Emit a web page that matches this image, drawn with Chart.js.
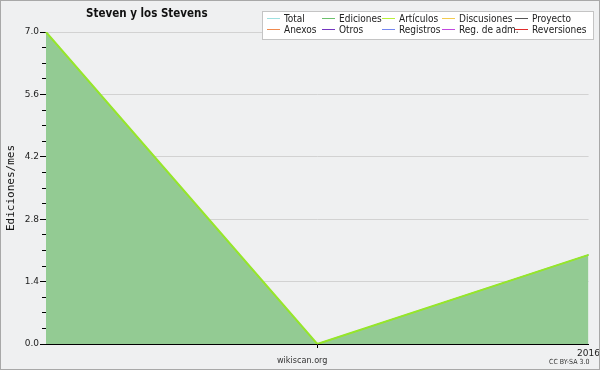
<!DOCTYPE html>
<html>
<head>
<meta charset="utf-8">
<script src="https://cdn.jsdelivr.net/npm/chart.js@4/dist/chart.umd.min.js"></script>
<style>
  body { margin: 0; background: #eff0f1; }
  #wrap { position: relative; width: 600px; height: 370px; background: #eff0f1; }
  #frame { position: absolute; left: 0; top: 0; width: 598px; height: 368px; border: 1px solid #a8a8a8; pointer-events: none; }
  #legend { position: absolute; left: 262px; top: 11px; width: 330px; height: 27px; background: #fff; border: 1px solid #c4c4c4;
    font: 10px "DejaVu Sans Condensed", "DejaVu Sans", sans-serif; color: #222; }
  .item { position: absolute; height: 12px; line-height: 12px; white-space: nowrap; }
  .item i { display: inline-block; width: 13px; height: 0; border-top: 1px solid; vertical-align: 3px; margin-right: 4px; }
  #title { position: absolute; left: 86px; top: 6px; font: bold 11.5px "DejaVu Sans Condensed", "DejaVu Sans", sans-serif; color: #111; }
  #site { position: absolute; left: 277px; top: 355px; font: 9px "DejaVu Sans Condensed", "DejaVu Sans", sans-serif; color: #333; }
  #cc { position: absolute; left: 549px; top: 358px; font: 7px "DejaVu Sans Condensed", "DejaVu Sans", sans-serif; color: #333; }
</style>
</head>
<body>
<div id="wrap">
  <canvas id="chart" width="600" height="370"></canvas>
  <div id="title">Steven y los Stevens</div>
  <div id="legend"></div>
  <div id="site">wikiscan.org</div>
  <div id="cc">CC BY-SA 3.0</div>
  <div id="frame"></div>
</div>
<script>
var months = ['2015-11', '2015-12', '2016-01']
var xTickLabels = ['', '', '2016']
var total = [7, 0, 2]
var ediciones = [7, 0, 2]
var articulos = [7, 0, 2]
var yTicks = [0, 1.4, 2.8, 4.2, 5.6, 7.0]

var legendNames = ['Total', 'Ediciones', 'Artículos', 'Discusiones', 'Proyecto',
                   'Anexos', 'Otros', 'Registros', 'Reg. de adm.', 'Reversiones']
var legendColors = ['#9ee0e0', '#6cc06c', '#b8f03a', '#f2cc50', '#555555',
                    '#f08a4e', '#7436c0', '#7486f0', '#c248e0', '#e02c2c']
var legendX = [4, 59, 119, 179, 252]

// legend
var leg = document.getElementById('legend')
legendNames.forEach(function (name, i) {
  var d = document.createElement('div')
  d.className = 'item'
  d.style.left = legendX[i % 5] + 'px'
  d.style.top = (i < 5 ? 1 : 12) + 'px'
  d.innerHTML = '<i style="border-color:' + legendColors[i] + '"></i>' + name
  leg.appendChild(d)
})

// minor ticks every 0.35
var minorTicks = []
for (var k = 0; k <= 20; k++) minorTicks.push(+(k * 0.35).toFixed(2))

var ctx = document.getElementById('chart').getContext('2d')
var chart = new Chart(ctx, {
  type: 'line',
  data: {
    labels: months,
    datasets: [
      // first dataset is drawn on top
      { label: 'Artículos', data: articulos, borderColor: '#96e62a', borderWidth: 2, pointRadius: 0, fill: false },
      { label: 'Ediciones', data: ediciones, borderColor: '#6cb86c', backgroundColor: '#93cb93', borderWidth: 1, pointRadius: 0, fill: 'origin' },
      { label: 'Total', data: total, borderColor: '#a6e3e3', borderWidth: 1, pointRadius: 0, fill: false }
    ]
  },
  options: {
    responsive: false,
    animation: false,
    layout: { padding: { top: 32, right: 11, left: 0, bottom: 0 } },
    plugins: { legend: { display: false }, title: { display: false }, tooltip: { enabled: false } },
    scales: {
      x: {
        offset: false,
        grid: {
          drawOnChartArea: false,
          tickLength: 4,
          tickColor: function (c) { return c.index === 1 ? '#000' : 'rgba(0,0,0,0)' }
        },
        border: { color: '#000', width: 1 },
        ticks: {
          autoSkip: false, maxRotation: 0, padding: 0,
          color: '#222', font: { family: 'DejaVu Sans', size: 9 },
          callback: function (v, i) { return xTickLabels[i] }
        },
        afterFit: function (s) { s.height = 26 }
      },
      y: {
        position: 'left',
        weight: 1,
        min: 0, max: 7,
        afterBuildTicks: function (s) { s.ticks = yTicks.map(function (v) { return { value: v } }) },
        grid: {
          tickLength: 6,
          tickColor: '#000',
          color: function (c) { return c.tick && c.tick.value > 0 ? '#d2d2d2' : 'rgba(0,0,0,0)' }
        },
        border: { color: '#000', width: 1 },
        ticks: {
          padding: 1, color: '#222', font: { family: 'DejaVu Sans', size: 9 },
          callback: function (v) { return v.toFixed(1) }
        },
        title: {
          display: true, text: 'Ediciones/mes', color: '#111',
          font: { family: 'DejaVu Sans Mono', size: 11 }, padding: { top: 5, bottom: 0 }
        },
        afterFit: function (s) { s.width = 46 }
      },
      y2: {
        position: 'left',
        weight: 0,
        min: 0, max: 7,
        afterBuildTicks: function (s) { s.ticks = minorTicks.map(function (v) { return { value: v } }) },
        grid: { drawOnChartArea: false, tickLength: 4, tickColor: '#000' },
        border: { display: false },
        ticks: { display: false },
        afterFit: function (s) { s.width = 0 }
      }
    }
  }
})
</script>
</body>
</html>
